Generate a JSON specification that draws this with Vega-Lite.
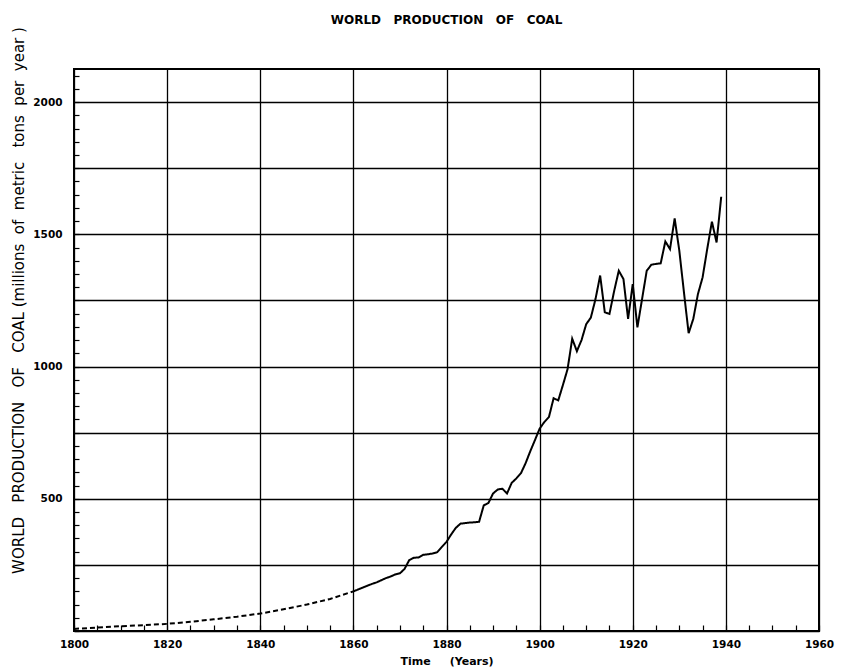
{
  "$schema": "https://vega.github.io/schema/vega-lite/v6.json",
  "autosize": "none",
  "width": 745,
  "height": 562,
  "padding": {"left": 74, "top": 69, "right": 24, "bottom": 41},
  "background": "white",
  "config": {
    "view": {"stroke": "black", "strokeWidth": 2},
    "font": "DejaVu Sans"
  },
  "title": {
    "text": "WORLD\u00a0\u00a0\u00a0PRODUCTION\u00a0\u00a0\u00a0OF\u00a0\u00a0\u00a0COAL",
    "fontSize": 12,
    "fontWeight": "bold",
    "font": "DejaVu Sans",
    "color": "black",
    "anchor": "middle",
    "offset": 0,
    "dy": 0
  },
  "data": {
    "values": [
      {"year": 1800, "coal": 8, "kind": "estimated"},
      {"year": 1805, "coal": 13, "kind": "estimated"},
      {"year": 1810, "coal": 18, "kind": "estimated"},
      {"year": 1815, "coal": 22, "kind": "estimated"},
      {"year": 1820, "coal": 27, "kind": "estimated"},
      {"year": 1825, "coal": 35, "kind": "estimated"},
      {"year": 1830, "coal": 44, "kind": "estimated"},
      {"year": 1835, "coal": 54, "kind": "estimated"},
      {"year": 1840, "coal": 66, "kind": "estimated"},
      {"year": 1845, "coal": 82, "kind": "estimated"},
      {"year": 1850, "coal": 100, "kind": "estimated"},
      {"year": 1855, "coal": 121, "kind": "estimated"},
      {"year": 1860, "coal": 150, "kind": "estimated"},
      {"year": 1860, "coal": 150, "kind": "recorded"},
      {"year": 1861, "coal": 157, "kind": "recorded"},
      {"year": 1862, "coal": 164, "kind": "recorded"},
      {"year": 1863, "coal": 171, "kind": "recorded"},
      {"year": 1864, "coal": 178, "kind": "recorded"},
      {"year": 1865, "coal": 184, "kind": "recorded"},
      {"year": 1866, "coal": 192, "kind": "recorded"},
      {"year": 1867, "coal": 200, "kind": "recorded"},
      {"year": 1868, "coal": 206, "kind": "recorded"},
      {"year": 1869, "coal": 214, "kind": "recorded"},
      {"year": 1870, "coal": 218, "kind": "recorded"},
      {"year": 1871, "coal": 235, "kind": "recorded"},
      {"year": 1872, "coal": 268, "kind": "recorded"},
      {"year": 1873, "coal": 277, "kind": "recorded"},
      {"year": 1874, "coal": 278, "kind": "recorded"},
      {"year": 1875, "coal": 288, "kind": "recorded"},
      {"year": 1876, "coal": 290, "kind": "recorded"},
      {"year": 1877, "coal": 293, "kind": "recorded"},
      {"year": 1878, "coal": 298, "kind": "recorded"},
      {"year": 1879, "coal": 318, "kind": "recorded"},
      {"year": 1880, "coal": 337, "kind": "recorded"},
      {"year": 1881, "coal": 365, "kind": "recorded"},
      {"year": 1882, "coal": 390, "kind": "recorded"},
      {"year": 1883, "coal": 406, "kind": "recorded"},
      {"year": 1884, "coal": 408, "kind": "recorded"},
      {"year": 1885, "coal": 410, "kind": "recorded"},
      {"year": 1886, "coal": 411, "kind": "recorded"},
      {"year": 1887, "coal": 413, "kind": "recorded"},
      {"year": 1888, "coal": 475, "kind": "recorded"},
      {"year": 1889, "coal": 484, "kind": "recorded"},
      {"year": 1890, "coal": 520, "kind": "recorded"},
      {"year": 1891, "coal": 535, "kind": "recorded"},
      {"year": 1892, "coal": 538, "kind": "recorded"},
      {"year": 1893, "coal": 520, "kind": "recorded"},
      {"year": 1894, "coal": 560, "kind": "recorded"},
      {"year": 1895, "coal": 577, "kind": "recorded"},
      {"year": 1896, "coal": 597, "kind": "recorded"},
      {"year": 1897, "coal": 635, "kind": "recorded"},
      {"year": 1898, "coal": 680, "kind": "recorded"},
      {"year": 1899, "coal": 722, "kind": "recorded"},
      {"year": 1900, "coal": 765, "kind": "recorded"},
      {"year": 1901, "coal": 790, "kind": "recorded"},
      {"year": 1902, "coal": 809, "kind": "recorded"},
      {"year": 1903, "coal": 880, "kind": "recorded"},
      {"year": 1904, "coal": 872, "kind": "recorded"},
      {"year": 1905, "coal": 930, "kind": "recorded"},
      {"year": 1906, "coal": 990, "kind": "recorded"},
      {"year": 1907, "coal": 1105, "kind": "recorded"},
      {"year": 1908, "coal": 1058, "kind": "recorded"},
      {"year": 1909, "coal": 1100, "kind": "recorded"},
      {"year": 1910, "coal": 1160, "kind": "recorded"},
      {"year": 1911, "coal": 1185, "kind": "recorded"},
      {"year": 1912, "coal": 1255, "kind": "recorded"},
      {"year": 1913, "coal": 1344, "kind": "recorded"},
      {"year": 1914, "coal": 1205, "kind": "recorded"},
      {"year": 1915, "coal": 1199, "kind": "recorded"},
      {"year": 1916, "coal": 1285, "kind": "recorded"},
      {"year": 1917, "coal": 1362, "kind": "recorded"},
      {"year": 1918, "coal": 1331, "kind": "recorded"},
      {"year": 1919, "coal": 1180, "kind": "recorded"},
      {"year": 1920, "coal": 1312, "kind": "recorded"},
      {"year": 1921, "coal": 1148, "kind": "recorded"},
      {"year": 1922, "coal": 1255, "kind": "recorded"},
      {"year": 1923, "coal": 1362, "kind": "recorded"},
      {"year": 1924, "coal": 1385, "kind": "recorded"},
      {"year": 1925, "coal": 1388, "kind": "recorded"},
      {"year": 1926, "coal": 1390, "kind": "recorded"},
      {"year": 1927, "coal": 1473, "kind": "recorded"},
      {"year": 1928, "coal": 1444, "kind": "recorded"},
      {"year": 1929, "coal": 1560, "kind": "recorded"},
      {"year": 1930, "coal": 1438, "kind": "recorded"},
      {"year": 1931, "coal": 1280, "kind": "recorded"},
      {"year": 1932, "coal": 1126, "kind": "recorded"},
      {"year": 1933, "coal": 1180, "kind": "recorded"},
      {"year": 1934, "coal": 1274, "kind": "recorded"},
      {"year": 1935, "coal": 1337, "kind": "recorded"},
      {"year": 1936, "coal": 1445, "kind": "recorded"},
      {"year": 1937, "coal": 1548, "kind": "recorded"},
      {"year": 1938, "coal": 1469, "kind": "recorded"},
      {"year": 1939, "coal": 1642, "kind": "recorded"}
    ]
  },
  "mark": {"type": "line", "color": "black", "strokeWidth": 2, "clip": true},
  "encoding": {
    "x": {
      "field": "year",
      "type": "quantitative",
      "scale": {"domain": [1800, 1960], "nice": false, "zero": false},
      "axis": {
        "values": [1800,1805,1810,1815,1820,1825,1830,1835,1840,1845,1850,1855,1860,1865,1870,1875,1880,1885,1890,1895,1900,1905,1910,1915,1920,1925,1930,1935,1940,1945,1950,1955,1960],
        "format": "d",
        "labelExpr": "datum.value % 20 === 0 ? datum.label : ''",
        "labelFont": "DejaVu Sans",
        "labelFontSize": 10.5,
        "labelFontWeight": "bold",
        "labelColor": "black",
        "labelPadding": 14,
        "labelFlush": false,
        "labelOverlap": false,
        "tickSize": -6,
        "tickColor": "black",
        "tickWidth": 1.2,
        "domain": false,
        "grid": true,
        "gridColor": "black",
        "gridWidth": 1.3,
        "gridOpacity": {"condition": {"test": "datum.value % 20 === 0", "value": 1}, "value": 0},
        "title": "Time\u00a0\u00a0\u00a0\u00a0\u00a0(Years)",
        "titleFont": "DejaVu Sans",
        "titleFontSize": 11,
        "titleFontWeight": "bold",
        "titleColor": "black",
        "titlePadding": 6
      }
    },
    "y": {
      "field": "coal",
      "type": "quantitative",
      "scale": {"domain": [0, 2125], "nice": false},
      "axis": {
        "values": [0,50,100,150,200,250,300,350,400,450,500,550,600,650,700,750,800,850,900,950,1000,1050,1100,1150,1200,1250,1300,1350,1400,1450,1500,1550,1600,1650,1700,1750,1800,1850,1900,1950,2000,2050,2100],
        "format": "d",
        "labelExpr": "datum.value % 500 === 0 && datum.value > 0 ? datum.label : ''",
        "labelFont": "DejaVu Sans",
        "labelFontSize": 10.5,
        "labelFontWeight": "bold",
        "labelColor": "black",
        "labelPadding": 17,
        "labelOverlap": false,
        "tickSize": -5,
        "tickColor": "black",
        "tickWidth": 1.2,
        "domain": false,
        "grid": true,
        "gridColor": "black",
        "gridWidth": 1.3,
        "gridOpacity": {"condition": {"test": "datum.value % 250 === 0", "value": 1}, "value": 0},
        "title": "WORLD\u00a0\u00a0\u00a0PRODUCTION\u00a0\u00a0\u00a0OF\u00a0\u00a0\u00a0COAL\u00a0(millions\u00a0\u00a0of\u00a0\u00a0metric\u00a0\u00a0\u00a0tons\u00a0\u00a0per\u00a0\u00a0year\u00a0)",
        "titleFont": "DejaVu Sans",
        "titleFontSize": 15,
        "titleFontWeight": "normal",
        "titleColor": "black",
        "titleX": -56,
        "titleY": 231,
        "titleAlign": "center",
        "titleBaseline": "middle",
        "titleLimit": 700
      }
    },
    "strokeDash": {
      "field": "kind",
      "type": "nominal",
      "scale": {"domain": ["estimated", "recorded"], "range": [[5, 3], [1, 0]]},
      "legend": null
    }
  }
}
